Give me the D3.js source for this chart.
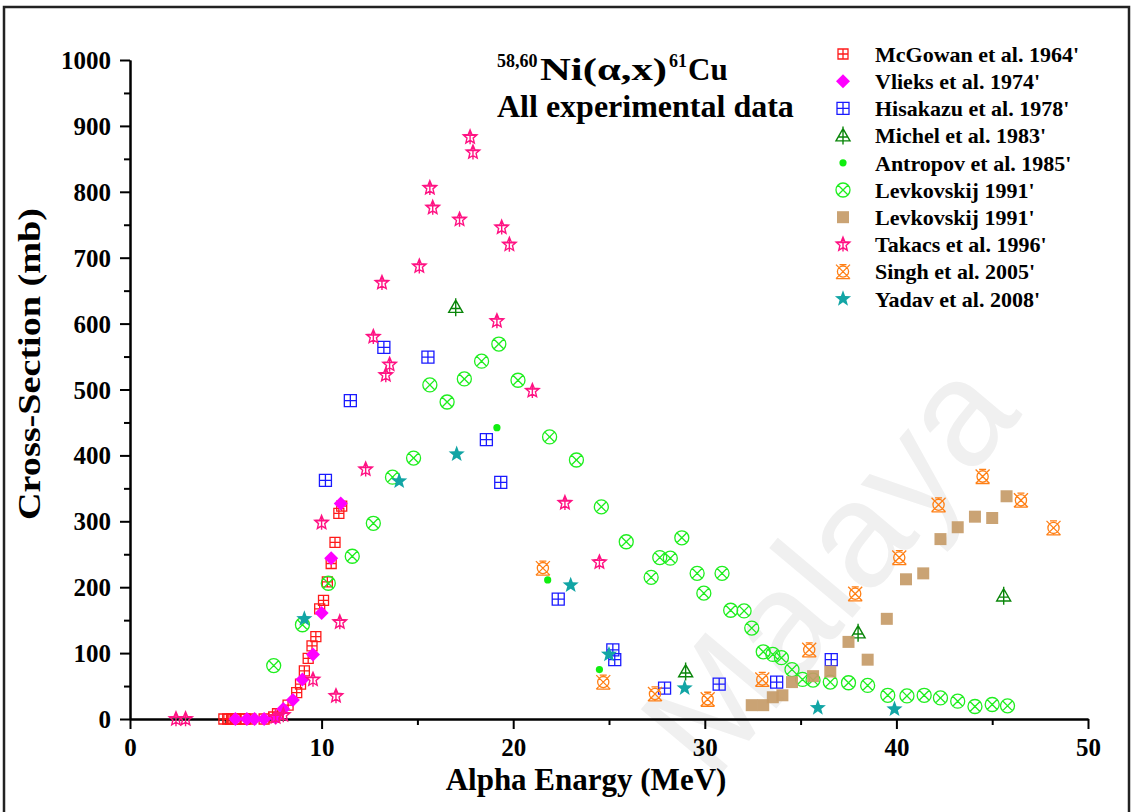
<!DOCTYPE html>
<html>
<head>
<meta charset="utf-8">
<script src="https://cdn.jsdelivr.net/npm/d3@7"></script>
<style>
  body { margin: 0; background: #fff; }
  svg { display: block; }
  text { font-family: "Liberation Serif", "Times New Roman", serif; font-weight: bold; fill: #000; }
</style>
</head>
<body>
<svg id="chart" width="1133" height="812"></svg>
<script>
// ---- data: [alpha energy (MeV), cross-section (mb)] ----
const mcgowan = [[4.9,0],[5.1,0],[5.3,0],[5.5,0],[5.8,0],[6.0,0],[6.3,0],[7.0,0],[7.5,3],[7.7,8],[8.25,21],[8.7,40],[8.9,53],[9.1,73],[9.3,92],[9.5,111],[9.7,125],[9.9,167],[10.1,180],[10.3,208],[10.5,236],[10.7,268],[10.9,312],[11.05,323]];
const vlieks = [[5.5,0],[6.1,0],[6.5,0],[7.0,0],[7.6,2],[8.0,15],[8.5,29],[9.0,60],[9.55,98],[10.0,161],[10.5,244],[11.0,327]];
const hisakazu = [[10.2,362],[11.5,483],[13.25,564],[15.55,549],[18.6,424],[19.35,359],[22.35,182],[25.2,105],[25.3,90],[27.9,47],[30.75,53],[33.75,56],[36.6,90]];
const michel = [[17.0,625],[29.0,72],[38.0,131],[45.6,187]];
const antropov = [[19.15,442],[21.8,211],[24.5,75]];
const levkovskijA = [[7.5,81],[9.0,143],[10.35,206],[11.6,247],[12.7,297],[13.7,367],[14.8,396],[15.65,507],[16.55,481],[17.45,516],[18.35,543],[19.25,569],[20.25,514],[21.9,428],[23.3,393],[24.6,322],[25.9,269],[27.2,215],[27.65,245],[28.2,244],[28.8,275],[29.6,221],[29.95,191],[30.9,221],[31.35,165],[32.05,164],[32.45,138],[33.05,102],[33.55,98],[34.0,93],[34.55,75],[35.1,60],[35.65,59],[36.55,56],[37.5,55],[38.5,51],[39.55,36],[40.55,35],[41.45,36],[42.3,32],[43.2,27],[44.1,19],[45.0,22],[45.8,20]];
const levkovskijB = [[32.45,21],[33.05,21],[33.55,33],[34.05,36],[34.55,56],[35.65,65],[36.55,72],[37.5,117],[38.5,90],[39.5,152],[40.5,212],[41.4,221],[42.3,273],[43.2,291],[44.1,307],[45.0,305],[45.75,338]];
const takacs = [[2.4,0],[2.9,0],[7.6,3],[8.0,6],[9.55,60],[10.0,298],[10.75,35],[10.95,147],[12.3,379],[12.7,580],[13.15,662],[13.35,522],[13.55,538],[15.1,687],[15.65,806],[15.8,776],[17.2,758],[17.75,883],[17.9,860],[19.15,604],[19.4,746],[19.8,720],[21.0,498],[22.7,328],[24.5,238]];
const singh = [[21.55,229],[24.7,56],[27.4,38],[30.15,30],[33.0,60],[35.45,105],[37.85,190],[40.15,245],[42.2,325],[44.5,368],[46.5,332],[48.2,290]];
const yadav = [[9.1,152],[14.05,361],[17.05,402],[23.0,203],[25.0,98],[28.95,47],[35.9,17],[39.9,15]];

const seriesNames = ["McGowan et al. 1964'", "Vlieks et al. 1974'", "Hisakazu et al. 1978'", "Michel et al. 1983'", "Antropov et al. 1985'", "Levkovskij 1991'", "Levkovskij 1991'", "Takacs et al. 1996'", "Singh et al. 2005'", "Yadav et al. 2008'"];
const seriesData = [mcgowan, vlieks, hisakazu, michel, antropov, levkovskijA, levkovskijB, takacs, singh, yadav];

const xTicks = [0, 10, 20, 30, 40, 50];
const xMinorTicks = [5, 15, 25, 35, 45];
const yTicks = [0, 100, 200, 300, 400, 500, 600, 700, 800, 900, 1000];
const yMinorTicks = [50, 150, 250, 350, 450, 550, 650, 750, 850, 950];

// ---- marker shapes (paths centred on 0,0) ----
function starPts(ro, ri) {
  const p = [];
  for (let i = 0; i < 10; i++) {
    const a = -Math.PI / 2 + i * Math.PI / 5;
    const r = i % 2 ? ri : ro;
    p.push([r * Math.cos(a), r * Math.sin(a)]);
  }
  return "M" + p.map(d => d[0].toFixed(2) + "," + d[1].toFixed(2)).join("L") + "Z";
}
const shapes = {
  boxPlus: h => `M${-h},${-h}H${h}V${h}H${-h}ZM0,${-h}V${h}M${-h},0H${h}`,
  diamond: h => `M0,${-h}L${h},0L0,${h}L${-h},0Z`,
  triPlus: h => `M0,${-h}L${h},${h*0.75}L${-h},${h*0.75}ZM0,${-h-2}V${h+2}M${-h*0.7},${h*0.2}H${h*0.7}`,
  dot: h => `M${h},0A${h},${h},0,1,1,${-h},0A${h},${h},0,1,1,${h},0Z`,
  circleX: h => { const k = h * 0.72; return `M${h},0A${h},${h},0,1,1,${-h},0A${h},${h},0,1,1,${h},0ZM${-k},${-k}L${k},${k}M${k},${-k}L${-k},${k}`; },
  square: h => `M${-h},${-h}H${h}V${h}H${-h}Z`,
  starPlus: h => starPts(h, h * 0.45) + `M0,${-h}V${h}M${-h*0.8},${-h*0.25}H${h*0.8}`,
  circleBox: h => { const r = h * 0.8; return `M${r},0A${r},${r},0,1,1,${-r},0A${r},${r},0,1,1,${r},0ZM${-h},${-h}L${h},${h}M${h},${-h}L${-h},${h}M${-h},${h}H${h}M${-h*0.5},${-h}H${h*0.5}`; },
  star: h => starPts(h, h * 0.42)
};

// per-series marker style
const markerStyle = [
  { shape: "boxPlus", size: 5,   color: "#ff1a1a", filled: false, sw: 1.3 },
  { shape: "diamond", size: 7,   color: "#ff00ff", filled: true },
  { shape: "boxPlus", size: 6,   color: "#1a1aff", filled: false, sw: 1.3 },
  { shape: "triPlus", size: 7,   color: "#0a860a", filled: false, sw: 1.4 },
  { shape: "dot",     size: 3.6, color: "#10ee10", filled: true },
  { shape: "circleX", size: 7,   color: "#1fee1f", filled: false, sw: 1.3 },
  { shape: "square",  size: 6,   color: "#c59b68", filled: true, opacity: 0.92 },
  { shape: "starPlus",size: 7.2, color: "#ff1283", filled: false, sw: 1.4 },
  { shape: "circleBox",size: 7,  color: "#ff7f14", filled: false, sw: 1.3 },
  { shape: "star",    size: 8.5, color: "#12a5a5", filled: true }
];

const svg = d3.select("#chart");
const x = d3.scaleLinear().domain([0, 50]).range([130, 1088]);
const y = d3.scaleLinear().domain([0, 1000]).range([719, 60]);

// faint background watermark
svg.append("text")
  .attr("transform", "translate(712,785) rotate(-50)")
  .style("font-family", "'Liberation Sans', Arial, sans-serif")
  .style("font-weight", "normal")
  .style("font-size", "150px")
  .style("fill", "#f0f0f0")
  .text("Malaya");

// outer frame
svg.append("rect")
  .attr("x", 4).attr("y", 7).attr("width", 1125).attr("height", 840)
  .attr("fill", "none").attr("stroke", "#222").attr("stroke-width", 2.5);

// axes
function styleAxis(g) {
  g.selectAll("path.domain").attr("stroke", "#000").attr("stroke-width", 2);
  g.selectAll(".tick line").attr("stroke", "#000").attr("stroke-width", 2);
}
const gx = svg.append("g").attr("transform", `translate(0,${y(0)})`);
gx.append("g").call(d3.axisBottom(x).tickValues(xMinorTicks).tickSize(6).tickSizeOuter(0).tickFormat(""))
  .call(styleAxis);
gx.append("g").call(d3.axisBottom(x).tickValues(xTicks).tickSize(10).tickSizeOuter(0).tickFormat(d3.format("d")))
  .call(styleAxis)
  .call(g => g.selectAll(".tick text").attr("y", 19).attr("dy", "0.71em").style("font-size", "25px").style("font-family", "'Liberation Serif', serif"));

const gy = svg.append("g").attr("transform", `translate(${x(0)},0)`);
gy.append("g").call(d3.axisLeft(y).tickValues(yMinorTicks).tickSize(6).tickSizeOuter(0).tickFormat(""))
  .call(styleAxis);
gy.append("g").call(d3.axisLeft(y).tickValues(yTicks).tickSize(10).tickSizeOuter(0).tickFormat(d3.format("d")))
  .call(styleAxis)
  .call(g => g.selectAll(".tick text").attr("x", -19).attr("dy", "0.34em").style("font-size", "25px").style("font-family", "'Liberation Serif', serif"));

// axis titles
svg.append("text")
  .attr("x", 586).attr("y", 790)
  .attr("text-anchor", "middle")
  .style("font-size", "31px")
  .text("Alpha Enargy (MeV)");
svg.append("text")
  .attr("transform", "translate(40,364) rotate(-90)")
  .attr("text-anchor", "middle")
  .attr("textLength", 312)
  .attr("lengthAdjust", "spacingAndGlyphs")
  .style("font-size", "32px")
  .text("Cross-Section (mb)");

// chart title: 58,60Ni(α,x)61Cu
const supSize = "18px";
svg.append("text").attr("x", 497).attr("y", 67).style("font-size", supSize).text("58,60");
svg.append("text").attr("x", 540).attr("y", 80).style("font-size", "31px")
  .attr("textLength", 127).attr("lengthAdjust", "spacingAndGlyphs").text("Ni(\u03B1,x)");
svg.append("text").attr("x", 669).attr("y", 67).style("font-size", supSize).text("61");
svg.append("text").attr("x", 688).attr("y", 80).style("font-size", "31px").text("Cu");
svg.append("text").attr("x", 497).attr("y", 117).style("font-size", "32px").text("All experimental data");

// data markers
function drawMarker(sel, st) {
  sel.attr("d", shapes[st.shape](st.size))
    .attr("fill", st.filled ? st.color : "none")
    .attr("stroke", st.filled ? "none" : st.color)
    .attr("stroke-width", st.sw || 0)
    .attr("opacity", st.opacity || 1);
}
seriesData.forEach((data, i) => {
  const st = markerStyle[i];
  svg.append("g").selectAll("path")
    .data(data)
    .join("path")
    .attr("transform", d => `translate(${x(d[0])},${y(d[1])})`)
    .call(drawMarker, st);
});

// legend
const legend = svg.append("g");
seriesNames.forEach((name, i) => {
  const yy = 54 + i * 27.2;
  legend.append("path").attr("transform", `translate(843,${yy})`).call(drawMarker, markerStyle[i]);
  legend.append("text").attr("x", 875).attr("y", yy).attr("dy", "0.35em").style("font-size", "22px").text(name);
});
</script>
</body>
</html>
